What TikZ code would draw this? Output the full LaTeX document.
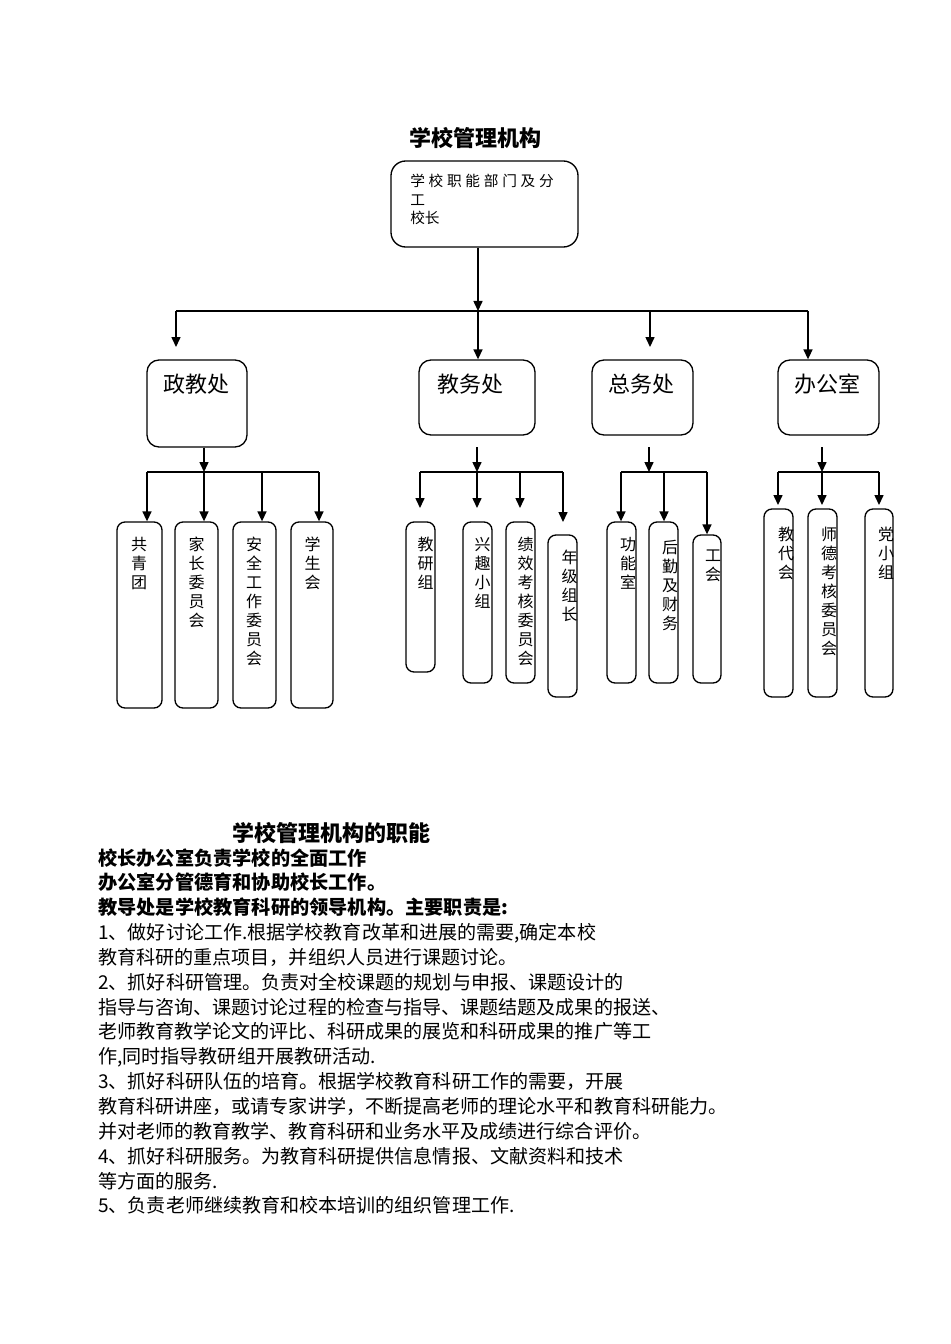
\documentclass[tikz,border=0pt]{standalone}
\usepackage{fontspec}
\setmainfont{Noto Sans CJK SC}
\usetikzlibrary{arrows.meta,fit}
\newcommand\gx{\hspace{2.8pt}}
\begin{document}
\begin{tikzpicture}[x=0.75pt,y=-0.75pt,
  ln/.style={line width=1pt},
  arr/.style={line width=1pt,-{Triangle[length=7.5pt,width=6.8pt]}},
  bigbox/.style={draw,line width=1pt,inner sep=0pt,rounded corners=11pt},
  midbox/.style={draw,line width=1pt,inner sep=0pt,rounded corners=9pt},
  thinbox/.style={draw,line width=1pt,inner sep=0pt,rounded corners=6pt},
  lab/.style={inner sep=0pt,font=\fontsize{16.5pt}{19pt}\selectfont},
  vt/.style={anchor=north,inner sep=0pt,align=center,font=\fontsize{12pt}{14.25pt}\selectfont},
  bodyb/.style={anchor=base west,inner sep=0pt,font=\fontsize{14.4pt}{18pt}\selectfont\bfseries},
  body/.style={anchor=base west,inner sep=0pt,font=\fontsize{14.3pt}{18pt}\selectfont},
  ttl/.style={inner sep=0pt,font=\fontsize{16.5pt}{20pt}\selectfont\bfseries}
]
\useasboundingbox (0,0) rectangle (950,1344);
\fill[white] (0,0) rectangle (950,1344);

% title and top box
\node[ttl] (title) at (475,138) {学校管理机构};
\node[bigbox, fit={(391,161) (578,247)}] (top) {};
\node[anchor=north west,inner sep=0pt,align=left,font=\fontsize{11pt}{13.9pt}\selectfont] (toptext) at (410,174)
  {学\gx 校\gx 职\gx 能\gx 部\gx 门\gx 及\gx 分\\工\\校长};

% level 1 boxes
\node[midbox, fit={(147,360) (247,447)}] (zj) {};
\node[midbox, fit={(419,360) (535,435)}] (jw) {};
\node[midbox, fit={(592,360) (693,435)}] (zw) {};
\node[midbox, fit={(778,360) (879,435)}] (bg) {};
\node[lab] (zjt) at (196,384) {政教处};
\node[lab] (jwt) at (470,384) {教务处};
\node[lab] (zwt) at (641,384) {总务处};
\node[lab] (bgt) at (827,384) {办公室};

% top connectors
\coordinate (j0) at (478,311);
\coordinate (b1) at (176,311);
\coordinate (b3) at (650,311);
\coordinate (b4) at (808,311);
\coordinate (e1) at (176,347);
\coordinate (e3) at (650,347);
\draw[arr] (top.south -| j0) -- (j0);
\draw[ln] (b1) -- (b4);
\draw[arr] (b1) -- (e1);
\draw[arr] (j0) -- (jw.north -| j0);
\draw[arr] (b3) -- (e3);
\draw[arr] (b4) -- (bg.north -| b4);

% group 1: 政教处
\node[thinbox, fit={(117,522) (162,708)}] (g1) {};
\node[thinbox, fit={(175,522) (218,708)}] (g2) {};
\node[thinbox, fit={(233,522) (276,708)}] (g3) {};
\node[thinbox, fit={(291,522) (333,708)}] (g4) {};
\node[vt] (g1t) at (139,537) {共\\青\\团};
\node[vt] (g2t) at (196.5,537) {家\\长\\委\\员\\会};
\node[vt] (g3t) at (254,537) {安\\全\\工\\作\\委\\员\\会};
\node[vt] (g4t) at (312.5,537) {学\\生\\会};
\coordinate (gA) at (147,472);
\coordinate (gB) at (204,472);
\coordinate (gC) at (262,472);
\coordinate (gD) at (319,472);
\draw[arr] (zj.south -| gB) -- (gB);
\draw[ln] (gA) -- (gD);
\draw[arr] (gA) -- (gA |- g1.north);
\draw[arr] (gB) -- (gB |- g2.north);
\draw[arr] (gC) -- (gC |- g3.north);
\draw[arr] (gD) -- (gD |- g4.north);

% group 2: 教务处
\node[thinbox, fit={(406,522) (435,672)}] (j1) {};
\node[thinbox, fit={(463,522) (492,683)}] (j2) {};
\node[thinbox, fit={(506,522) (535,683)}] (j3) {};
\node[thinbox, fit={(548,535) (577,697)}] (j4) {};
\node[vt] (j1t) at (425.5,536.5) {教\\研\\组};
\node[vt] (j2t) at (482.5,537) {兴\\趣\\小\\组};
\node[vt] (j3t) at (525.5,537) {绩\\效\\考\\核\\委\\员\\会};
\node[vt] (j4t) at (569.5,549.5) {年\\级\\组\\长};
\coordinate (h0) at (477,447);
\coordinate (hA) at (420,472);
\coordinate (hB) at (477,472);
\coordinate (hC) at (520,472);
\coordinate (hD) at (563,472);
\coordinate (hAe) at (420,508);
\coordinate (hBe) at (477,508);
\coordinate (hCe) at (520,508);
\coordinate (hDe) at (563,522);
\draw[arr] (h0) -- (hB);
\draw[ln] (hA) -- (hD);
\draw[arr] (hA) -- (hAe);
\draw[arr] (hB) -- (hBe);
\draw[arr] (hC) -- (hCe);
\draw[arr] (hD) -- (hDe);

% group 3: 总务处
\node[thinbox, fit={(607,522) (636,683)}] (z1) {};
\node[thinbox, fit={(649,522) (678,683)}] (z2) {};
\node[thinbox, fit={(693,535) (721,683)}] (z3) {};
\node[vt] (z1t) at (628,537.5) {功\\能\\室};
\node[vt] (z2t) at (670,540) {后\\勤\\及\\财\\务};
\node[vt] (z3t) at (713,549.5) {工\\会};
\coordinate (k0) at (649,447);
\coordinate (kA) at (621,472);
\coordinate (kB) at (664,472);
\coordinate (kC) at (707,472);
\coordinate (kM) at (649,472);
\draw[arr] (k0) -- (kM);
\draw[ln] (kA) -- (kC);
\draw[arr] (kA) -- (kA |- z1.north);
\draw[arr] (kB) -- (kB |- z2.north);
\draw[arr] (kC) -- (kC |- z3.north);

% group 4: 办公室
\node[thinbox, fit={(764,509) (793,697)}] (o1) {};
\node[thinbox, fit={(808,509) (837,697)}] (o2) {};
\node[thinbox, fit={(865,509) (893,697)}] (o3) {};
\node[vt] (o1t) at (786,526.5) {教\\代\\会};
\node[vt] (o2t) at (829,526.5) {师\\德\\考\\核\\委\\员\\会};
\node[vt] (o3t) at (886,526.5) {党\\小\\组};
\coordinate (m0) at (822,447);
\coordinate (mA) at (778,472);
\coordinate (mB) at (822,472);
\coordinate (mC) at (879,472);
\coordinate (mAe) at (778,505);
\coordinate (mBe) at (822,505);
\coordinate (mCe) at (879,505);
\draw[arr] (m0) -- (mB);
\draw[ln] (mA) -- (mC);
\draw[arr] (mA) -- (mAe);
\draw[arr] (mB) -- (mBe);
\draw[arr] (mC) -- (mCe);

% functions text
\node[ttl] (title2) at (331.5,833) {学校管理机构的职能};
\node[bodyb] (l0) at (98,865.0) {校长办公室负责学校的全面工作};
\node[bodyb] (l1) at (98,889.85) {办公室分管德育和协助校长工作。};
\node[bodyb] (l2) at (98,914.7) {教导处是学校教育科研的领导机构。主要职责是:};
\node[body] (l3) at (98,939.55) {1、做好讨论工作.根据学校教育改革和进展的需要,确定本校};
\node[body] (l4) at (98,964.4) {教育科研的重点项目，并组织人员进行课题讨论。};
\node[body] (l5) at (98,989.25) {2、抓好科研管理。负责对全校课题的规划与申报、课题设计的};
\node[body] (l6) at (98,1014.1) {指导与咨询、课题讨论过程的检查与指导、课题结题及成果的报送、};
\node[body] (l7) at (98,1038.95) {老师教育教学论文的评比、科研成果的展览和科研成果的推广等工};
\node[body] (l8) at (98,1063.8) {作,同时指导教研组开展教研活动.};
\node[body] (l9) at (98,1088.65) {3、抓好科研队伍的培育。根据学校教育科研工作的需要，开展};
\node[body] (l10) at (98,1113.5) {教育科研讲座，或请专家讲学，不断提高老师的理论水平和教育科研能力。};
\node[body] (l11) at (98,1138.35) {并对老师的教育教学、教育科研和业务水平及成绩进行综合评价。};
\node[body] (l12) at (98,1163.2) {4、抓好科研服务。为教育科研提供信息情报、文献资料和技术};
\node[body] (l13) at (98,1188.05) {等方面的服务.};
\node[body] (l14) at (98,1212.9) {5、负责老师继续教育和校本培训的组织管理工作.};
\end{tikzpicture}
\end{document}
